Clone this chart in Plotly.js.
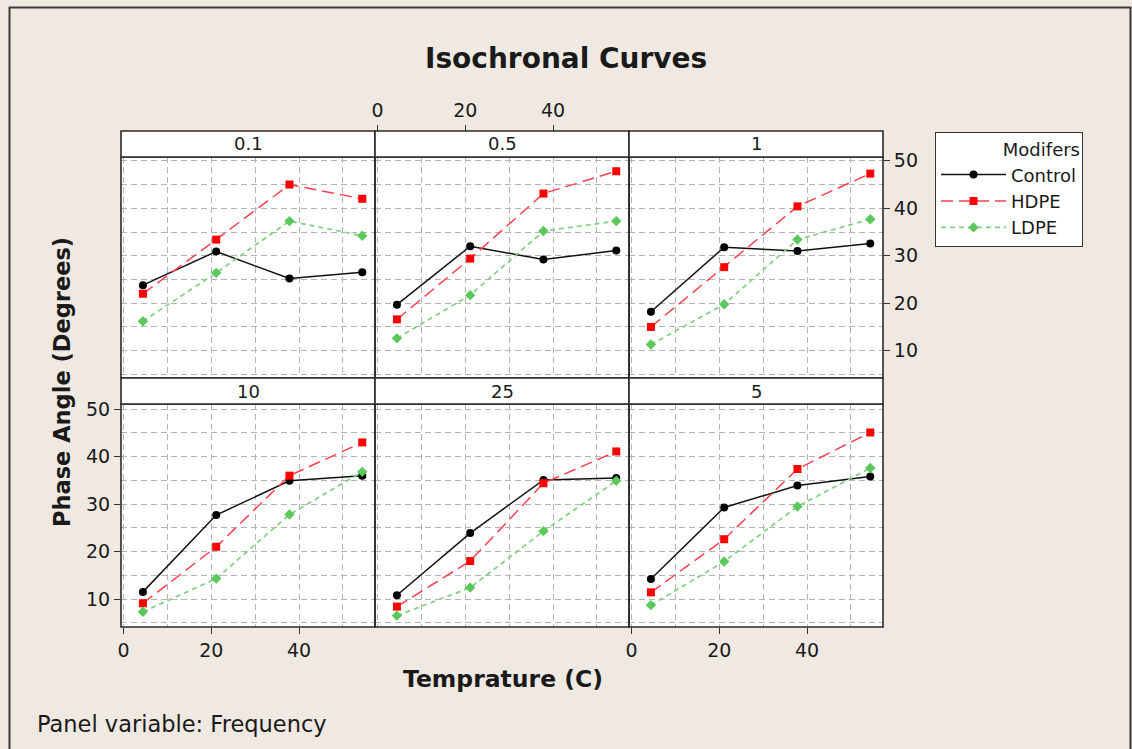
<!DOCTYPE html>
<html>
<head>
<meta charset="utf-8">
<script src="https://cdn.plot.ly/plotly-3.0.1.min.js"></script>
<style>
  html, body { margin: 0; padding: 0; background: #efe9e2; }
  #chart { width: 1132px; height: 749px; }
</style>
</head>
<body>
<div id="chart"></div>
<script>
// Test temperatures (C) shared by every panel
const temperatures = [4.4, 21.1, 37.8, 54.4];

// Panel order: top row left to right, then bottom row
const frequencies = ['0.1', '0.5', '1', '10', '25', '5'];

// Phase angle (degrees) per frequency panel
const controlPhase = [
  [23.8, 30.9, 25.2, 26.5],
  [19.7, 32.0, 29.2, 31.1],
  [18.2, 31.8, 31.0, 32.6],
  [11.5, 27.7, 34.9, 36.0],
  [10.8, 23.9, 35.1, 35.5],
  [14.2, 29.3, 33.9, 35.8]
];
const hdpePhase = [
  [22.0, 33.4, 45.0, 42.0],
  [16.6, 29.4, 43.1, 47.8],
  [15.0, 27.6, 40.4, 47.3],
  [9.1, 21.0, 36.0, 43.0],
  [8.4, 18.0, 34.4, 41.1],
  [11.4, 22.6, 37.4, 45.1]
];
const ldpePhase = [
  [16.2, 26.4, 37.3, 34.2],
  [12.6, 21.7, 35.2, 37.3],
  [11.3, 19.8, 33.4, 37.7],
  [7.3, 14.3, 27.8, 36.8],
  [6.5, 12.4, 24.3, 34.9],
  [8.7, 17.9, 29.5, 37.6]
];

const xTicks = [0, 20, 40];
const yTicks = [10, 20, 30, 40, 50];

const W = 1132, H = 749;
const px = v => v / W;
const py = v => 1 - v / H;

// Panel geometry in pixels
const colEdges = [[121, 375], [375, 629], [629, 883]];
const rowPlot = [[157, 378], [404, 627]];
const rowStrip = [[131, 157], [378, 404]];
const rowRange = [[4.25, 50.8], [4.1, 51.1]];

const FONT = 'DejaVu Sans, Verdana, sans-serif';
const INK = '#1a1a1a';
const GRID = '#b4b4b4';

const series = [
  { name: 'Control', data: controlPhase,
    line: { color: '#111111', width: 1.5, dash: 'solid' },
    marker: { color: '#000000', symbol: 'circle', size: 8 } },
  { name: 'HDPE', data: hdpePhase,
    line: { color: '#ff4050', width: 1.5, dash: '12px,6px' },
    marker: { color: '#ff0000', symbol: 'square', size: 8 } },
  { name: 'LDPE', data: ldpePhase,
    line: { color: '#80d080', width: 1.7, dash: '5px,4px' },
    marker: { color: '#5cc85c', symbol: 'diamond', size: 8 } }
];

const traces = [];
const layout = {
  width: W, height: H,
  margin: { l: 0, r: 0, t: 0, b: 0 },
  paper_bgcolor: '#efe9e2',
  plot_bgcolor: '#ffffff',
  font: { family: FONT, size: 18, color: INK },
  showlegend: true,
  legend: {
    x: px(935), y: py(132), xanchor: 'left', yanchor: 'top',
    bgcolor: '#ffffff', bordercolor: '#333333', borderwidth: 1,
    font: { family: FONT, size: 18, color: INK },
    title: { text: 'Modifers', side: 'top right', font: { family: FONT, size: 18, color: INK } },
    itemwidth: 65, tracegroupgap: 0
  },
  shapes: [],
  annotations: []
};

frequencies.forEach((freq, i) => {
  const row = Math.floor(i / 3), col = i % 3;
  const k = i === 0 ? '' : String(i + 1);
  const xName = 'xaxis' + k, yName = 'yaxis' + k;

  // x axis: labels on bottom-left and bottom-right panels, and on top of the middle column
  const showXBottom = (row === 1 && col !== 1);
  const showXTop = (row === 0 && col === 1);
  const xAxis = {
    domain: [px(colEdges[col][0]), px(colEdges[col][1])],
    range: [-0.6, 57.3],
    anchor: 'y' + k,
    tickvals: xTicks,
    showticklabels: showXBottom || showXTop,
    ticks: (showXBottom || showXTop) ? 'outside' : '',
    ticklen: 6, tickcolor: '#333333', tickwidth: 1,
    tickfont: { family: FONT, size: 19, color: INK },
    showline: false, zeroline: false,
    showgrid: true, gridcolor: GRID, gridwidth: 1, griddash: '6px,4px',
    minor: { dtick: 10, tick0: 0, showgrid: true, gridcolor: GRID, gridwidth: 1, griddash: '6px,4px', ticks: '' },
    fixedrange: true
  };
  if (showXTop) {
    xAxis.anchor = 'free';
    xAxis.side = 'top';
    xAxis.position = py(131);
  }
  layout[xName] = xAxis;

  // y axis: left labels on the bottom-left panel, right labels on the top-right panel
  const showYLeft = (row === 1 && col === 0);
  const showYRight = (row === 0 && col === 2);
  layout[yName] = {
    domain: [py(rowPlot[row][1]), py(rowPlot[row][0])],
    range: rowRange[row],
    anchor: 'x' + k,
    side: showYRight ? 'right' : 'left',
    tickvals: yTicks,
    showticklabels: showYLeft || showYRight,
    ticks: (showYLeft || showYRight) ? 'outside' : '',
    ticklen: 6, tickcolor: '#333333', tickwidth: 1,
    tickfont: { family: FONT, size: 19, color: INK },
    showline: false, zeroline: false,
    showgrid: true, gridcolor: GRID, gridwidth: 1, griddash: '6px,4px',
    minor: { dtick: 5, tick0: 0, showgrid: true, gridcolor: GRID, gridwidth: 1, griddash: '6px,4px', ticks: '' },
    fixedrange: true
  };

  series.forEach(s => {
    traces.push({
      type: 'scatter', mode: 'lines+markers',
      x: temperatures, y: s.data[i],
      xaxis: 'x' + k, yaxis: 'y' + k,
      name: s.name, legendgroup: s.name, showlegend: i === 0,
      line: s.line, marker: s.marker,
      hoverinfo: 'x+y+name'
    });
  });

  // Panel frame
  layout.shapes.push({
    type: 'rect', xref: 'paper', yref: 'paper', layer: 'above',
    x0: px(colEdges[col][0]), x1: px(colEdges[col][1]),
    y0: py(rowPlot[row][1]), y1: py(rowPlot[row][0]),
    line: { color: '#2a2a2a', width: 1.6 }, fillcolor: 'rgba(0,0,0,0)'
  });
  // Strip with the frequency label
  layout.shapes.push({
    type: 'rect', xref: 'paper', yref: 'paper', layer: 'above',
    x0: px(colEdges[col][0]), x1: px(colEdges[col][1]),
    y0: py(rowStrip[row][1]), y1: py(rowStrip[row][0]),
    line: { color: '#2a2a2a', width: 1.6 }, fillcolor: '#ffffff'
  });
  layout.annotations.push({
    xref: 'paper', yref: 'paper',
    x: px((colEdges[col][0] + colEdges[col][1]) / 2),
    y: py((rowStrip[row][0] + rowStrip[row][1]) / 2),
    text: freq, showarrow: false, xanchor: 'center', yanchor: 'middle',
    font: { family: FONT, size: 18, color: INK }
  });
});

// Outer frame of the graph window
layout.shapes.push({
  type: 'rect', xref: 'paper', yref: 'paper', layer: 'below',
  x0: px(9.5), x1: px(1130.5), y0: -0.05, y1: py(7.5),
  line: { color: '#3a3a3a', width: 2 }, fillcolor: 'rgba(0,0,0,0)'
});

// Titles and footnote
layout.annotations.push(
  { xref: 'paper', yref: 'paper', x: px(566), y: py(58), text: '<b>Isochronal Curves</b>',
    showarrow: false, xanchor: 'center', yanchor: 'middle',
    font: { family: FONT, size: 28, color: INK } },
  { xref: 'paper', yref: 'paper', x: px(503), y: py(679), text: '<b>Temprature (C)</b>',
    showarrow: false, xanchor: 'center', yanchor: 'middle',
    font: { family: FONT, size: 23.5, color: INK } },
  { xref: 'paper', yref: 'paper', x: px(62), y: py(382), text: '<b>Phase Angle (Degrees)</b>',
    showarrow: false, xanchor: 'center', yanchor: 'middle', textangle: -90,
    font: { family: FONT, size: 22.5, color: INK } },
  { xref: 'paper', yref: 'paper', x: px(35), y: py(724), text: 'Panel variable: Frequency',
    showarrow: false, xanchor: 'left', yanchor: 'middle',
    font: { family: FONT, size: 22.5, color: INK } }
);

Plotly.newPlot('chart', traces, layout, { displayModeBar: false, staticPlot: true });
</script>
</body>
</html>
